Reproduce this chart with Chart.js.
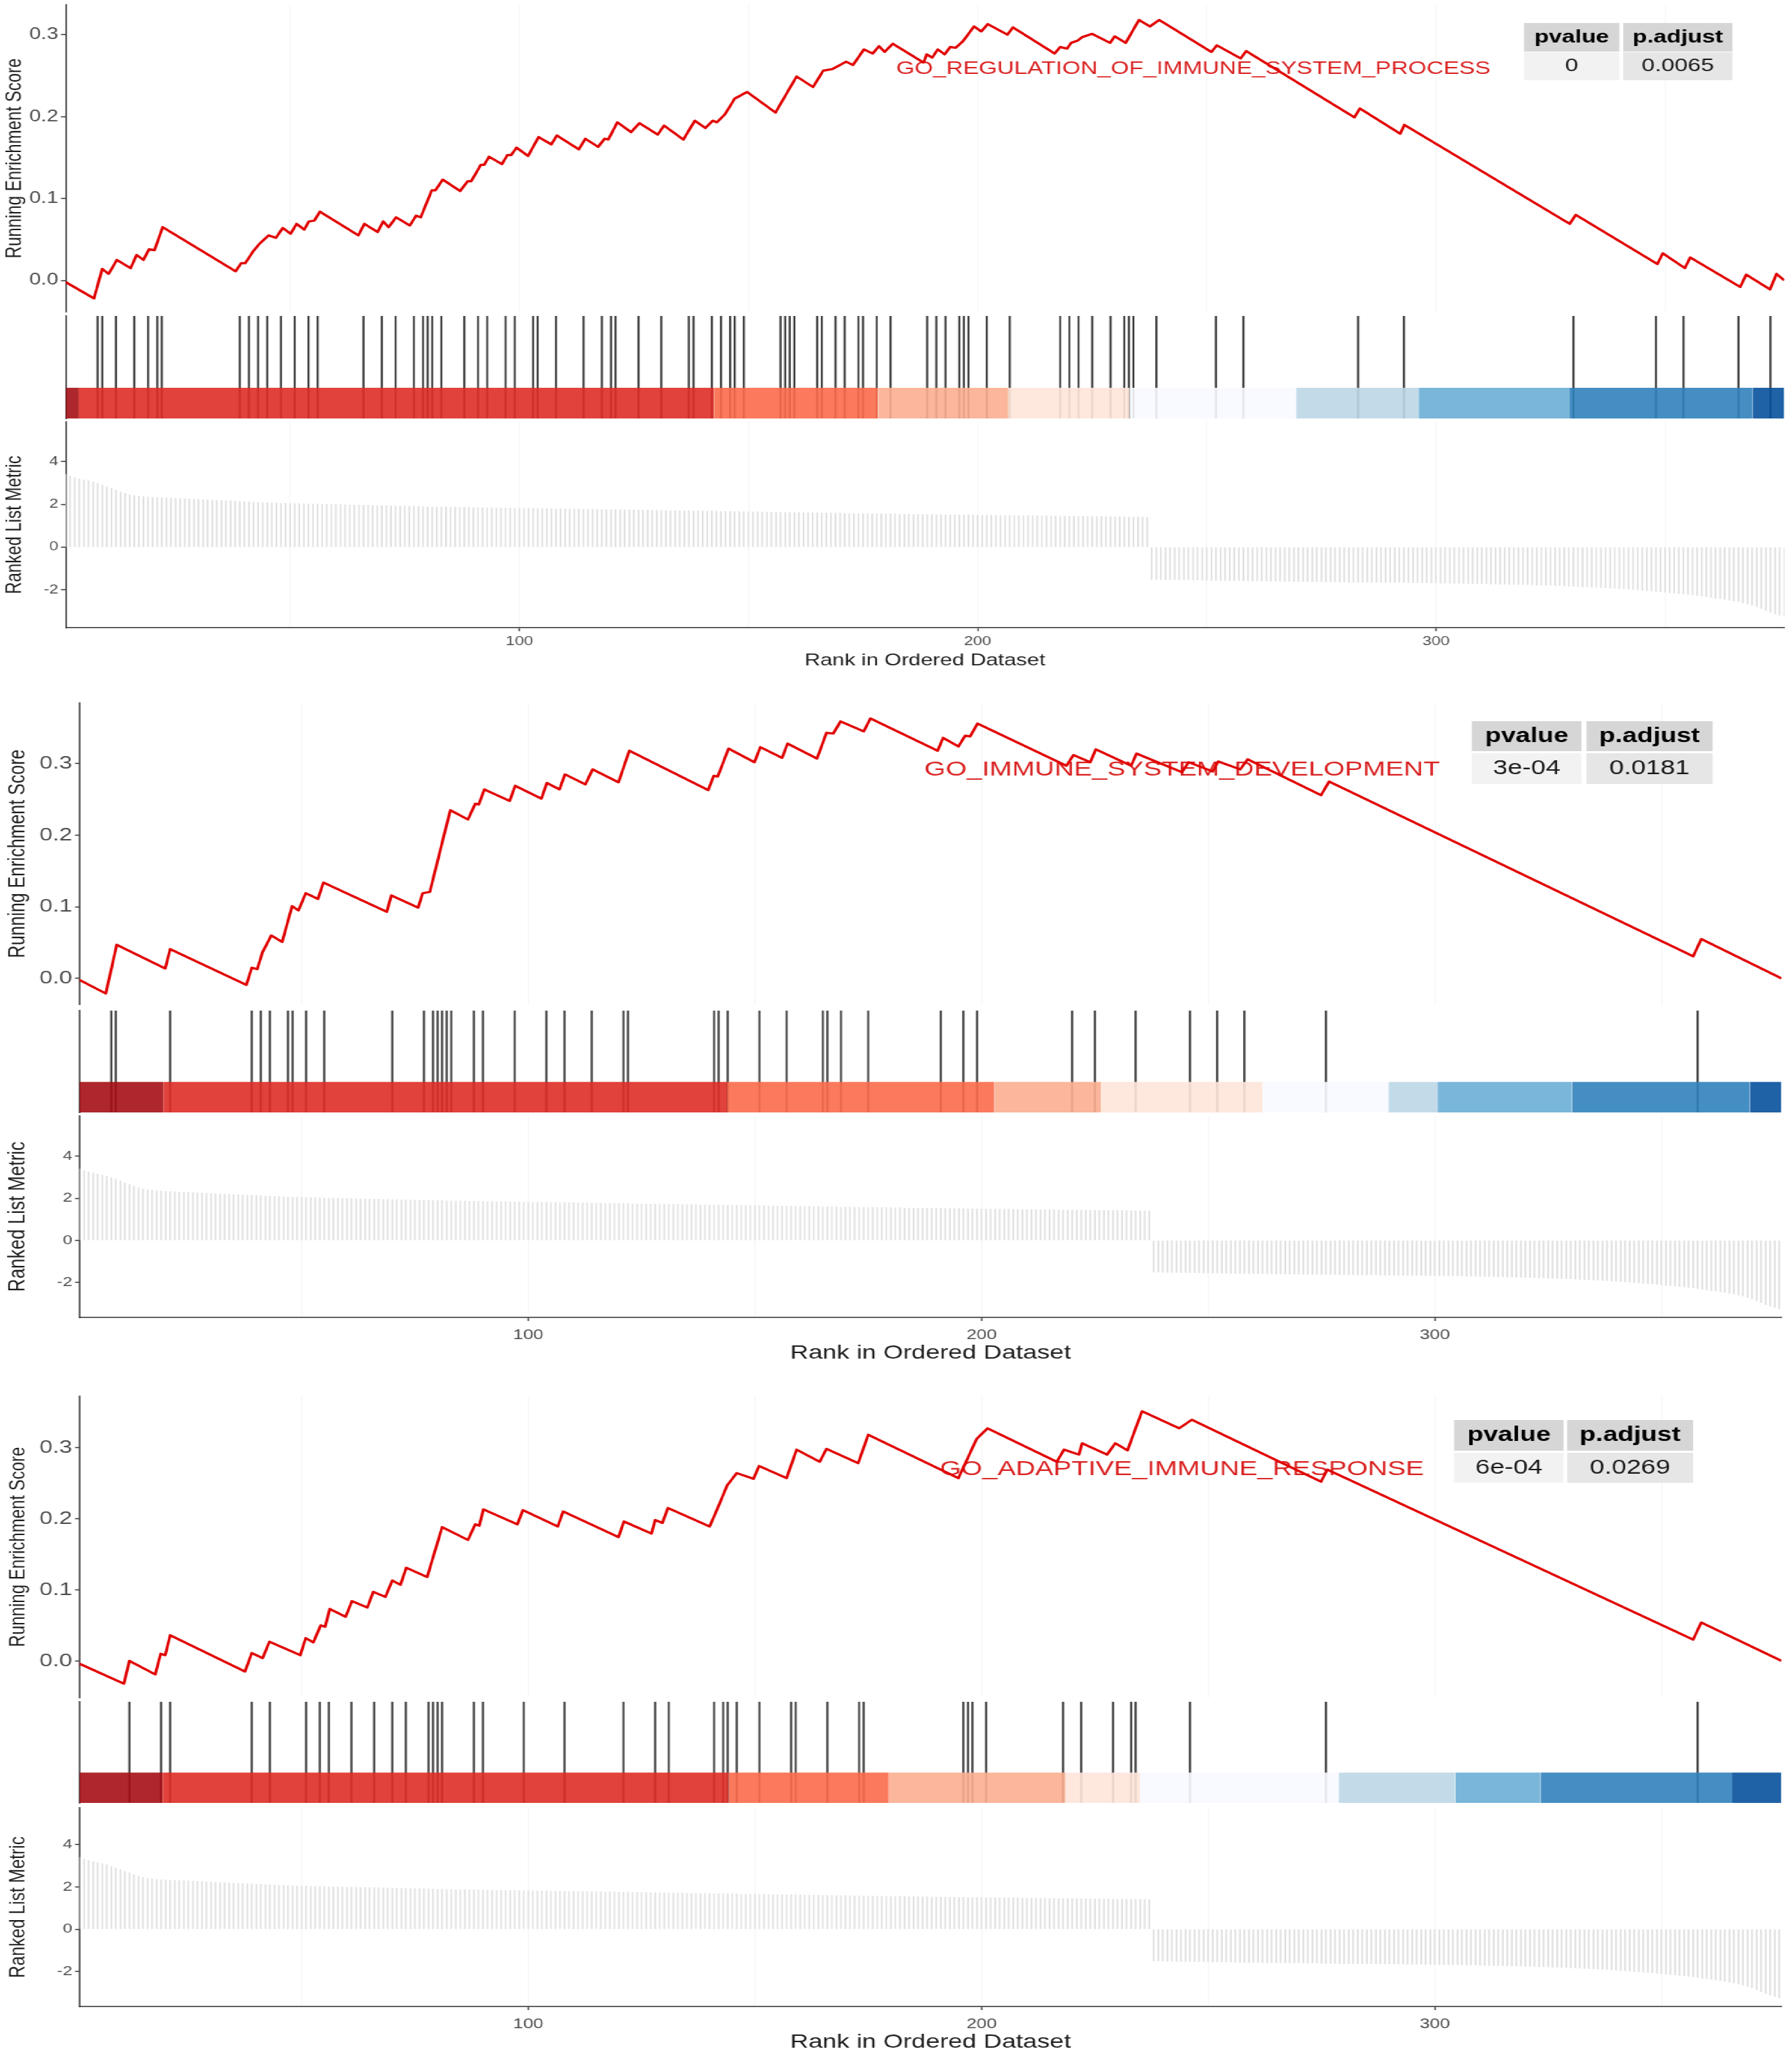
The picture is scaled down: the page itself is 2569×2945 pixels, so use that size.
<!DOCTYPE html>
<html><head><meta charset="utf-8">
<script src="https://cdn.jsdelivr.net/npm/chart.js@4.4.1/dist/chart.umd.min.js"></script>
<style>
html,body{margin:0;padding:0;background:#fff;}
body{width:2569px;height:2945px;overflow:hidden;position:relative;}
#wrap{position:absolute;left:0;top:0;width:1976px;height:2945px;transform-origin:0 0;transform:scaleX(1.3001012);}
#wrap canvas{position:absolute;left:0;}
</style></head><body><div id="wrap"></div>
<script>
// ---------------- DATA ----------------
const rankCount = 376;
const xTickLabels = [100, 200, 300];
const xGridRanks = [50, 100, 150, 200, 250, 300, 350];
const esTickValues = [0, 0.1, 0.2, 0.3];
const metricTickValues = [-2, 0, 2, 4];
const geneSetNames = ['GO_REGULATION_OF_IMMUNE_SYSTEM_PROCESS', 'GO_IMMUNE_SYSTEM_DEVELOPMENT', 'GO_ADAPTIVE_IMMUNE_RESPONSE'];
const tableHeaders = ['pvalue', 'p.adjust'];
const pvalues = ['0', '3e-04', '6e-04'];
const padjusts = ['0.0065', '0.0181', '0.0269'];
const esAxisTitle = 'Running Enrichment Score';
const metricAxisTitle = 'Ranked List Metric';
const xAxisTitle = 'Rank in Ordered Dataset';

// ranked list metric, rank 1..376
const rankedMetric = [
 3.40,3.32,3.25,3.20,3.15,3.10,3.05,2.98,2.90,2.82,2.74,2.66,2.58,2.51,2.45,2.41,2.38,2.36,2.34,2.33,
 2.32,2.31,2.30,2.29,2.28,2.27,2.26,2.25,2.24,2.23,2.22,2.21,2.20,2.19,2.18,2.17,2.16,2.15,2.14,2.13,
 2.12,2.11,2.10,2.09,2.08,2.07,2.06,2.05,2.05,2.04,2.04,2.03,2.03,2.02,2.02,2.01,2.01,2.00,2.00,1.99,
 1.99,1.98,1.98,1.97,1.97,1.96,1.96,1.95,1.95,1.94,1.94,1.93,1.93,1.92,1.92,1.91,1.91,1.90,1.90,1.89,
 1.89,1.88,1.88,1.87,1.87,1.87,1.86,1.86,1.86,1.85,1.85,1.85,1.84,1.84,1.84,1.83,1.83,1.83,1.82,1.82,
 1.82,1.81,1.81,1.81,1.80,1.80,1.80,1.79,1.79,1.79,1.78,1.78,1.78,1.77,1.77,1.77,1.76,1.76,1.76,1.75,
 1.75,1.75,1.74,1.74,1.74,1.73,1.73,1.73,1.72,1.72,1.72,1.71,1.71,1.71,1.70,1.70,1.70,1.69,1.69,1.69,
 1.68,1.68,1.68,1.67,1.67,1.67,1.66,1.66,1.66,1.65,1.65,1.65,1.64,1.64,1.64,1.63,1.63,1.63,1.62,1.62,
 1.62,1.61,1.61,1.61,1.60,1.60,1.60,1.59,1.59,1.59,1.58,1.58,1.58,1.57,1.57,1.57,1.56,1.56,1.56,1.55,
 1.55,1.55,1.54,1.54,1.54,1.53,1.53,1.53,1.52,1.52,1.52,1.52,1.51,1.51,1.51,1.51,1.50,1.50,1.50,1.50,
 1.49,1.49,1.49,1.49,1.48,1.48,1.48,1.48,1.47,1.47,1.47,1.47,1.46,1.46,1.46,1.46,1.45,1.45,1.45,1.45,
 1.44,1.44,1.44,1.44,1.43,1.43,1.43,1.43,1.42,1.42,1.42,1.42,1.41,1.41,1.41,1.41,1.40,
 -1.50,-1.51,-1.51,-1.52,-1.52,-1.52,-1.53,-1.53,-1.53,-1.54,-1.54,-1.54,-1.55,-1.55,-1.55,-1.56,-1.56,-1.56,-1.57,-1.57,-1.57,-1.58,-1.58,
 -1.58,-1.58,-1.59,-1.59,-1.59,-1.59,-1.60,-1.60,-1.60,-1.60,-1.61,-1.61,-1.61,-1.61,-1.62,-1.62,-1.62,-1.62,-1.63,-1.63,-1.63,-1.63,-1.64,-1.64,-1.64,-1.64,-1.64,-1.65,-1.65,-1.65,
 -1.65,-1.65,-1.65,-1.66,-1.66,-1.66,-1.66,-1.67,-1.67,-1.67,-1.68,-1.68,-1.68,-1.69,-1.69,-1.69,-1.70,-1.70,-1.70,-1.71,-1.71,-1.72,-1.72,-1.73,-1.73,-1.74,-1.74,-1.75,-1.75,-1.76,
 -1.76,-1.77,-1.78,-1.78,-1.79,-1.80,-1.80,-1.81,-1.82,-1.83,-1.84,-1.85,-1.86,-1.87,-1.88,-1.89,-1.90,-1.91,-1.93,-1.94,-1.95,-1.97,-1.98,-2.00,-2.02,-2.03,-2.05,-2.07,-2.09,-2.11,
 -2.13,-2.15,-2.17,-2.19,-2.21,-2.23,-2.26,-2.29,-2.32,-2.35,-2.38,-2.41,-2.44,-2.47,-2.51,-2.55,-2.60,-2.65,-2.71,-2.78,-2.86,-2.95,-3.05,-3.12,-3.18,-3.25
];

// gene set hit positions (ranks)
const hits1 = [8,9,12,16,19,21,22,39,41,43,45,48,51,54,56,66,70,73,77,79,80,81,83,88,91,93,97,99,103,104,108,114,118,120,121,126,131,137,138,142,144,146,147,149,157,158,159,160,165,166,169,171,174,175,178,181,189,191,193,196,197,198,202,207,218,220,222,225,229,232,233,234,239,252,258,283,293,330,348,354,366,373];
const hits2 = [8,9,21,39,41,43,47,48,51,55,70,77,79,80,81,82,83,88,90,97,104,108,114,121,122,141,142,144,151,157,165,166,169,175,191,196,199,220,225,234,246,252,258,276,358];
const hits3 = [12,19,21,39,43,51,54,56,61,66,70,73,78,79,80,81,88,90,99,108,121,128,131,141,143,144,146,151,158,159,166,173,174,196,197,198,201,218,222,229,233,234,246,276,358];

// running enrichment score vertices [rank, ES]
const es1 = [[1,-0.002],[7.2,-0.022],[9,0.014],[10.4,0.008],[12.2,0.025],[15.2,0.015],[16.5,0.031],[18,0.025],[19.2,0.038],[20.4,0.037],[22.2,0.065],[38.1,0.011],[39.3,0.021],[40.2,0.021],[42,0.036],[43.2,0.044],[45.3,0.055],[46.9,0.052],[48.4,0.064],[50.1,0.057],[51.4,0.069],[53.1,0.062],[54.1,0.072],[55.3,0.073],[56.5,0.084],[64.9,0.055],[66.2,0.069],[69.1,0.059],[70.3,0.072],[71.5,0.065],[73.1,0.077],[76.1,0.067],[77.5,0.079],[78.5,0.077],[80.9,0.110],[81.7,0.110],[83.3,0.123],[87.1,0.109],[88.7,0.121],[89.5,0.121],[91.6,0.141],[92.3,0.141],[93.4,0.151],[96.2,0.142],[97.4,0.153],[98.2,0.153],[99.4,0.162],[101.9,0.152],[104.2,0.175],[107,0.166],[108.2,0.177],[113,0.160],[114.4,0.173],[117.2,0.163],[118.6,0.173],[119.4,0.172],[121.4,0.193],[124.4,0.181],[126.2,0.192],[130.2,0.178],[131.6,0.189],[135.8,0.172],[138.3,0.195],[140.6,0.186],[142.2,0.195],[143.1,0.193],[144.9,0.203],[147,0.222],[149.7,0.230],[155.9,0.205],[160.5,0.249],[164.1,0.236],[166.3,0.256],[168.3,0.258],[171.3,0.267],[172.8,0.263],[175.2,0.282],[177.1,0.277],[178.5,0.286],[179.7,0.279],[181.5,0.289],[188.2,0.266],[188.9,0.276],[190.1,0.272],[191.3,0.282],[192.8,0.276],[194,0.285],[195.2,0.284],[196.8,0.292],[199.2,0.310],[200.8,0.304],[202.2,0.313],[206.5,0.300],[207.7,0.309],[216.8,0.277],[218,0.285],[219.5,0.283],[220.4,0.290],[221.9,0.293],[222.8,0.297],[225,0.301],[228.9,0.290],[229.9,0.298],[232.3,0.290],[235.2,0.318],[237.6,0.310],[239.6,0.318],[251,0.279],[252.2,0.287],[257.4,0.271],[258.6,0.280],[282.2,0.199],[283.4,0.210],[292.2,0.179],[293.1,0.190],[329.2,0.069],[330.5,0.080],[348.3,0.020],[349.5,0.033],[354.3,0.015],[355.5,0.028],[366.4,-0.008],[367.7,0.007],[372.9,-0.011],[374.3,0.008],[376,0.0]];
const es2 = [[1,-0.002],[6.8,-0.021],[9.2,0.047],[19.9,0.014],[21,0.041],[37.8,-0.009],[39,0.015],[40.2,0.013],[41.4,0.037],[43.3,0.060],[45.7,0.051],[47.9,0.101],[49.3,0.095],[50.9,0.119],[53.6,0.111],[54.8,0.134],[68.8,0.093],[69.8,0.116],[75.7,0.099],[76.7,0.119],[78.3,0.121],[82.8,0.235],[86.7,0.222],[88.3,0.244],[89.1,0.243],[90.3,0.264],[95.9,0.248],[97.1,0.269],[102.9,0.251],[104.1,0.273],[106.9,0.264],[108.1,0.285],[112.6,0.271],[114.2,0.292],[119.9,0.274],[122.3,0.318],[139.7,0.263],[140.9,0.283],[141.8,0.282],[144.2,0.321],[149.9,0.302],[151.2,0.323],[156,0.308],[157.2,0.328],[163.7,0.307],[165.8,0.343],[167.3,0.342],[168.9,0.359],[174,0.345],[175.5,0.363],[190.3,0.318],[191.5,0.336],[194.9,0.324],[196.4,0.339],[197.5,0.338],[199.1,0.356],[218.7,0.297],[220.3,0.312],[224,0.302],[225.2,0.320],[233,0.297],[234.2,0.314],[244.2,0.288],[245.7,0.302],[251,0.289],[252.2,0.303],[257.1,0.292],[258.7,0.306],[274.9,0.256],[276.7,0.275],[357,0.031],[358.8,0.055],[376.5,0.0]];
const es3 = [[1,-0.004],[10.8,-0.032],[12,0.0],[17.7,-0.019],[18.9,0.010],[19.9,0.008],[21,0.036],[37.5,-0.015],[39,0.011],[41.4,0.004],[42.9,0.027],[49.7,0.008],[50.9,0.032],[52.6,0.026],[54.2,0.050],[55.2,0.048],[56.2,0.073],[59.7,0.062],[61.1,0.084],[64.5,0.075],[65.8,0.097],[68.5,0.090],[70,0.113],[71.8,0.107],[73.1,0.131],[77.7,0.118],[81,0.188],[86.7,0.170],[88.3,0.192],[89.2,0.190],[90.1,0.213],[97.6,0.192],[98.8,0.212],[106.5,0.189],[107.7,0.210],[119.9,0.174],[121.1,0.196],[127.2,0.179],[128,0.198],[129.6,0.194],[130.8,0.215],[140,0.189],[141.4,0.209],[143.9,0.247],[146,0.264],[149.7,0.256],[150.9,0.274],[157,0.257],[159.2,0.297],[164.3,0.280],[165.8,0.298],[172.8,0.278],[175,0.318],[194.9,0.257],[198.9,0.312],[201.3,0.327],[216.6,0.280],[218.2,0.297],[221.5,0.290],[222.2,0.306],[227.7,0.290],[229.5,0.306],[232.2,0.296],[235.4,0.351],[243.6,0.327],[246.4,0.339],[274.9,0.252],[276.3,0.269],[357,0.030],[358.8,0.054],[376.5,0.0]];

// colour band edges (ranks) for the rank-bin bar under the hit ticks
const bandEdges1 = [1,3.9,142.5,178.3,206.7,233.1,269.5,296.2,329.2,369.1,376];
const bandEdges2 = [1,19.5,143.9,202.8,226.4,262,289.8,300.6,330.3,369.5,376.5];
const bandEdges3 = [1,19.3,144.2,179.5,218.5,235,278.8,304.5,323.3,365.6,376.5];
const bandColors = ['#A50F15','#DE2D26','#FB6A4A','#FCAE91','#FEE5D9','#F7F9FF','#BDD7E7','#6BAED6','#3182BD','#08519C'];

const esSeries = [es1, es2, es3];
const hitSeries = [hits1, hits2, hits3];
const bandSeries = [bandEdges1, bandEdges2, bandEdges3];

// ---------------- LAYOUT / STYLE ----------------
const FF = "'Liberation Sans', Arial, Helvetica, sans-serif";
const CW = 1976;
const BAND_HEIGHT = 0.3;
const layouts = [
 {left:72.3, right:1967.5, xMax:376,
  es:{canvasTop:0, canvasH:451, top:7, bottom:447, min:-0.0383, max:0.3364, tickFont:23, titleFont:24, titlePad:1.6},
  tk:{canvasTop:451, canvasH:151, top:453, bottom:600},
  rk:{canvasTop:602, canvasH:370, top:605, bottom:900, min:-3.762, max:5.847, tickFont:18, titleFont:24, titlePad:1.6, xTickFont:18, xTickPad:4, xTitleFont:24, xTitlePad:10.6},
  name:{font:26, right:1643.7, cy:99},
  table:{font:26, cols:[[1680.6,1785.6],[1789.8,1910.4]], head:[33,74], body:[75,115]}},
 {left:87.7, right:1964.5, xMax:376.5,
  es:{canvasTop:997, canvasH:446, top:1008, bottom:1440, min:-0.0361, max:0.3846, tickFont:26, titleFont:25, titlePad:5},
  tk:{canvasTop:1443, canvasH:154, top:1449, bottom:1595},
  rk:{canvasTop:1597, canvasH:368, top:1600, bottom:1889, min:-3.659, max:5.911, tickFont:19, titleFont:26, titlePad:4.5, xTickFont:20, xTickPad:8, xTitleFont:28, xTitlePad:8.2},
  name:{font:30, right:1587.8, cy:1104},
  table:{font:29, cols:[[1623,1743.9],[1749.3,1888.4]], head:[1034,1077], body:[1080,1124]}},
 {left:87.7, right:1964.5, xMax:376.5,
  es:{canvasTop:1985, canvasH:452, top:2002, bottom:2434, min:-0.0516, max:0.372, tickFont:26, titleFont:24, titlePad:5.6},
  tk:{canvasTop:2437, canvasH:151, top:2440, bottom:2585},
  rk:{canvasTop:2588, canvasH:357, top:2592, bottom:2877, min:-3.663, max:5.743, tickFont:19, titleFont:24.5, titlePad:5.3, xTickFont:20, xTickPad:8, xTitleFont:28, xTitlePad:0.2},
  name:{font:30, right:1570, cy:2106.5},
  table:{font:29, cols:[[1603.5,1724.2],[1727.9,1867.0]], head:[2036,2080], body:[2083,2126]}}
];

Chart.defaults.font.family = FF;
const wrap = document.getElementById('wrap');
function makeCanvas(top, h){
  const c = document.createElement('canvas');
  c.width = CW; c.height = h;
  c.style.top = top + 'px'; c.style.width = CW + 'px'; c.style.height = h + 'px';
  wrap.appendChild(c); return c;
}
function fixY(w){ return s => { s.width = w; s.paddingTop = 0; s.paddingBottom = 0; }; }
function fixX(h){ return s => { s.height = h; s.paddingLeft = 0; s.paddingRight = 0; }; }
function rgba(hex, a){
  const n = parseInt(hex.slice(1), 16);
  return `rgba(${(n>>16)&255},${(n>>8)&255},${n&255},${a})`;
}
const base = {responsive:false, animation:false, devicePixelRatio:1, events:[],
  plugins:{legend:{display:false}, tooltip:{enabled:false}}};

function annotPlugin(i){
  const L = layouts[i];
  return {id:'annot'+i, beforeDatasetsDraw(chart){
    const ctx = chart.ctx, off = L.es.canvasTop;
    ctx.save();
    ctx.font = L.name.font + 'px ' + FF; ctx.fillStyle = '#DA2222';
    ctx.textAlign = 'right'; ctx.textBaseline = 'middle';
    ctx.fillText(geneSetNames[i], L.name.right, L.name.cy - off);
    const T = L.table;
    const cells = [[tableHeaders[0], pvalues[i]], [tableHeaders[1], padjusts[i]]];
    T.cols.forEach((c, j) => {
      ctx.fillStyle = '#D6D6D6'; ctx.fillRect(c[0], T.head[0]-off, c[1]-c[0], T.head[1]-T.head[0]);
      ctx.fillStyle = j === 0 ? '#F2F2F2' : '#E6E6E6'; ctx.fillRect(c[0], T.body[0]-off, c[1]-c[0], T.body[1]-T.body[0]);
      ctx.textAlign = 'center'; ctx.textBaseline = 'middle';
      ctx.fillStyle = '#000'; ctx.font = 'bold ' + T.font + 'px ' + FF;
      ctx.fillText(cells[j][0], (c[0]+c[1])/2, (T.head[0]+T.head[1])/2 - off);
      ctx.fillStyle = '#1A1A1A'; ctx.font = T.font + 'px ' + FF;
      ctx.fillText(cells[j][1], (c[0]+c[1])/2, (T.body[0]+T.body[1])/2 - off);
    });
    ctx.restore();
  }};
}

layouts.forEach((L, i) => {
  // ---- running enrichment score panel ----
  const E = L.es;
  new Chart(makeCanvas(E.canvasTop, E.canvasH), {
    type:'line',
    data:{datasets:[{data: esSeries[i].map(p => ({x:p[0], y:p[1]})), borderColor:'#E10000', borderWidth:3.2,
      pointRadius:0, tension:0, fill:false, borderJoinStyle:'round'}]},
    options:Object.assign({}, base, {
      layout:{padding:{left:0, right:CW-L.right, top:E.top-E.canvasTop, bottom:E.canvasTop+E.canvasH-E.bottom}},
      scales:{
        x:{type:'linear', min:1, max:L.xMax, offset:false,
           afterBuildTicks:s => { s.ticks = xGridRanks.map(v => ({value:v})); },
           ticks:{display:false}, grid:{color:'#F3F3F3', lineWidth:1, drawTicks:false}, border:{display:false},
           afterFit:fixX(0)},
        y:{type:'linear', min:E.min, max:E.max,
           afterBuildTicks:s => { s.ticks = esTickValues.map(v => ({value:v})); },
           ticks:{autoSkip:false, callback:v => Number(v).toFixed(1), font:{size:E.tickFont}, color:'#4D4D4D', padding:3},
           grid:{drawOnChartArea:false, drawTicks:true, tickLength:5, tickColor:'#333', tickWidth:1.5},
           border:{display:true, color:'#333', width:1.6},
           title:{display:true, text:esAxisTitle, font:{size:E.titleFont}, color:'#1E1E1E', padding:{top:E.titlePad, bottom:0}},
           afterFit:fixY(L.left)}
      }
    }),
    plugins:[annotPlugin(i)]
  });

  // ---- hit ticks + rank colour bar ----
  const K = L.tk;
  const edges = bandSeries[i];
  const bands = edges.slice(0, -1).map((a, k) => ({
    type:'line', data:[{x:a, y:BAND_HEIGHT}, {x:edges[k+1], y:BAND_HEIGHT}], fill:'origin',
    backgroundColor:rgba(bandColors[k], 0.9), borderColor:'rgba(0,0,0,0)', borderWidth:0, pointRadius:0, order:1}));
  new Chart(makeCanvas(K.canvasTop, K.canvasH), {
    type:'bar',
    data:{datasets:[{type:'bar', data: hitSeries[i].map(r => ({x:r, y:[0, 1]})), backgroundColor:'#3A3A3A',
      barThickness:1.6, grouped:false, order:2}].concat(bands)},
    options:Object.assign({}, base, {
      layout:{padding:{left:0, right:CW-L.right, top:K.top-K.canvasTop, bottom:K.canvasTop+K.canvasH-K.bottom}},
      scales:{
        x:{type:'linear', min:1, max:L.xMax, offset:false, display:false, grid:{offset:false}},
        y:{type:'linear', min:0, max:1, ticks:{display:false}, grid:{display:false},
           border:{display:true, color:'#333', width:1.6}, afterFit:fixY(L.left)}
      }
    })
  });

  // ---- ranked list metric panel ----
  const R = L.rk;
  new Chart(makeCanvas(R.canvasTop, R.canvasH), {
    type:'bar',
    data:{datasets:[{data: rankedMetric.map((v, k) => ({x:k+1, y:v})), backgroundColor:'#DCDCDC',
      barThickness:1.0, grouped:false}]},
    options:Object.assign({}, base, {
      layout:{padding:{left:0, right:CW-L.right, top:R.top-R.canvasTop, bottom:0}},
      scales:{
        x:{type:'linear', min:1, max:L.xMax, offset:false,
           afterBuildTicks:s => { s.ticks = xGridRanks.map(v => ({value:v})); },
           ticks:{autoSkip:false, maxRotation:0, callback:v => xTickLabels.includes(v) ? String(v) : '',
                  font:{size:R.xTickFont}, color:'#4D4D4D', padding:R.xTickPad},
           grid:{offset:false, color:'#F3F3F3', lineWidth:1, drawTicks:true, tickLength:5, tickWidth:1.5,
                 tickColor:c => (c.tick && xTickLabels.includes(c.tick.value)) ? '#333' : 'rgba(0,0,0,0)'},
           border:{display:true, color:'#333', width:1.6},
           title:{display:true, text:xAxisTitle, font:{size:R.xTitleFont}, color:'#1E1E1E', padding:{top:0, bottom:R.xTitlePad}},
           afterFit:fixX(R.canvasH - (R.bottom - R.canvasTop))},
        y:{type:'linear', min:R.min, max:R.max,
           afterBuildTicks:s => { s.ticks = metricTickValues.map(v => ({value:v})); },
           ticks:{autoSkip:false, callback:v => String(v), font:{size:R.tickFont}, color:'#4D4D4D', padding:3},
           grid:{drawOnChartArea:false, drawTicks:true, tickLength:5, tickColor:'#333', tickWidth:1.5},
           border:{display:true, color:'#333', width:1.6},
           title:{display:true, text:metricAxisTitle, font:{size:R.titleFont}, color:'#1E1E1E', padding:{top:R.titlePad, bottom:0}},
           afterFit:fixY(L.left)}
      }
    })
  });
});
</script></body></html>
